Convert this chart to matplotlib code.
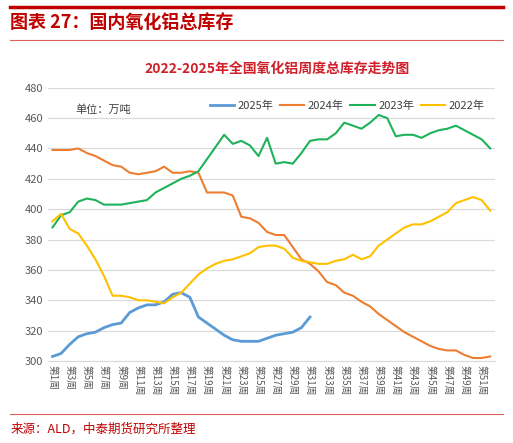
import matplotlib.pyplot as plt
from matplotlib.lines import Line2D

plt.rcParams['font.family'] = ['Noto Sans CJK SC', 'DejaVu Sans']

weeks = list(range(1, 53))
tick_labels = ['第%d周' % w for w in range(1, 52, 2)]

y2025 = [303, 305, 311, 316, 318, 319, 322, 324, 325, 332, 335, 337, 337, 339, 344, 345,
         342, 329, 325, 321, 317, 314, 313, 313, 313, 315, 317, 318, 319, 322, 329]
y2024 = [439, 439, 439, 440, 437, 435, 432, 429, 428, 424, 423, 424, 425, 428, 424, 424,
         425, 424, 411, 411, 411, 409, 395, 394, 391, 385, 383, 383, 375, 367, 364, 359,
         352, 350, 345, 343, 339, 336, 331, 327, 323, 319, 316, 313, 310, 308, 307, 307,
         304, 302, 302, 303]
y2023 = [388, 396, 398, 405, 407, 406, 403, 403, 403, 404, 405, 406, 411, 414, 417, 420,
         422, 425, 433, 441, 449, 443, 445, 442, 435, 447, 430, 431, 430, 437, 445, 446,
         446, 450, 457, 455, 453, 457, 462, 460, 448, 449, 449, 447, 450, 452, 453, 455,
         452, 449, 446, 440]
y2022 = [392, 397, 387, 384, 376, 367, 356, 343, 343, 342, 340, 340, 339, 338, 342, 345,
         351, 357, 361, 364, 366, 367, 369, 371, 375, 376, 376, 374, 368, 366, 365, 364,
         364, 366, 367, 370, 367, 369, 376, 380, 384, 388, 390, 390, 392, 395, 398, 404,
         406, 408, 406, 399]

fig = plt.figure(figsize=(5.13, 4.43), dpi=100)
red = '#c00000'
fig.add_artist(Line2D([0.02, 0.98], [0.985, 0.985], color=red, lw=2.5))
fig.add_artist(Line2D([0.02, 0.98], [0.91, 0.91], color='#e06060', lw=0.8))
fig.add_artist(Line2D([0.02, 0.98], [0.065, 0.065], color='#e06060', lw=0.8))
fig.text(0.02, 0.95, '图表 27：国内氧化铝总库存', color=red, fontsize=13, fontweight='bold',
         style='italic', va='center')
fig.text(0.02, 0.032, '来源：ALD，中泰期货研究所整理', color=red, fontsize=9, va='center')
fig.text(0.54, 0.845, '2022-2025年全国氧化铝周度总库存走势图', color='#d0202a', fontsize=10,
         fontweight='bold', ha='center', va='center')

ax = fig.add_axes([0.094, 0.185, 0.87, 0.617])
ax.plot(weeks[:len(y2025)], y2025, color='#5b9bd5', lw=2, label='2025年')
ax.plot(weeks, y2024, color='#ed7d31', lw=1.5, label='2024年')
ax.plot(weeks, y2023, color='#1eb35a', lw=1.5, label='2023年')
ax.plot(weeks, y2022, color='#ffc000', lw=1.5, label='2022年')
ax.set_ylim(300, 480)
ax.set_yticks(range(300, 481, 20))
ax.set_xlim(0.5, 52.5)
ax.set_xticks(range(1, 52, 2))
ax.set_xticklabels(tick_labels, fontsize=7, color='#595959', rotation=270)
ax.tick_params(axis='y', labelsize=8, colors='#595959', length=0)
ax.tick_params(axis='x', length=0, pad=3)
ax.grid(axis='y', color='#d9d9d9', lw=0.8)
for s in ax.spines.values():
    s.set_visible(False)
ax.spines['bottom'].set_visible(True)
ax.spines['bottom'].set_color('#d9d9d9')
ax.text(0.06, 0.92, '单位：万吨', transform=ax.transAxes, fontsize=8, color='#404040', va='center')
ax.legend(loc='upper right', bbox_to_anchor=(1.0, 0.99), ncol=4, frameon=False, fontsize=8,
          handlelength=2.2, columnspacing=0.6, handletextpad=0.3, labelcolor='#404040')
fig.savefig('out.png', dpi=100)
